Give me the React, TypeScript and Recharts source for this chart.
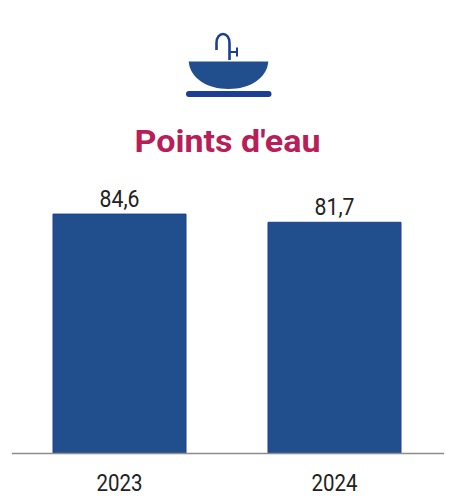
import React from "react";
import { BarChart, Bar, XAxis, YAxis, LabelList } from "recharts";

const categories = ["2023", "2024"];
const values = [84.6, 81.7];
const labels = ["84,6", "81,7"];
const title = "Points d'eau";
const data = categories.map((year, i) => ({ year, value: values[i], label: labels[i] }));

const BLUE = "#214f8e";
const EDGE = "#1c3f94";
const CRIMSON = "#b81f58";
const FONT = "Roboto, sans-serif";

const CondensedTick = (props: any) => {
  const { x, y, payload } = props;
  return (
    <text x={x} y={y + 29} textAnchor="middle" fontFamily={FONT} fontSize={24} fill="#222"
      textLength={46} lengthAdjust="spacingAndGlyphs">{payload.value}</text>
  );
};

const ValueLabel = (props: any) => {
  const { x, y, width, value } = props;
  return (
    <text x={x + width / 2} y={y - 7} textAnchor="middle" fontFamily={FONT} fontSize={24} fill="#222"
      textLength={40} lengthAdjust="spacingAndGlyphs">{value}</text>
  );
};

const Header = () => (
  <svg width={455} height={170} style={{ position: "absolute", left: 0, top: 0 }}>
    <path d="M216.5 50 V43 C216.5 31 229.5 31 229.5 43 V60" fill="none" stroke={EDGE} strokeWidth={2.6} />
    <path d="M229.5 52 H237 M237 47.5 V56.5" fill="none" stroke={EDGE} strokeWidth={2} />
    <path d="M188.7 61.5 H268.3 C267 78 250 89 228.5 89 C207 89 190 78 188.7 61.5 Z" fill={BLUE} />
    <rect x={186} y={91} width={85.5} height={6} rx={3} fill={EDGE} />
    <text x={227.5} y={152} textAnchor="middle" fontFamily={FONT} fontWeight={700} fontSize={31} fill={CRIMSON}
      textLength={186} lengthAdjust="spacingAndGlyphs">{title}</text>
  </svg>
);

export default function App() {
  return (
    <div style={{ position: "absolute", left: 0, top: 0, width: 455, height: 496 }}>
      <Header />
      <div style={{ position: "absolute", left: 0, top: 0 }}>
        <BarChart width={455} height={496} data={data} barCategoryGap={41}
          margin={{ top: 170.5, right: 11, bottom: 0, left: 12 }}>
          <YAxis hide domain={[0, 100]} />
          <XAxis dataKey="year" height={42.5} tickLine={false} padding={{ left: 0, right: 2 }}
            axisLine={{ stroke: "#8c8c8c", strokeWidth: 1.5 }} tick={<CondensedTick />} interval={0} />
          <Bar dataKey="value" fill={BLUE} stroke={EDGE} strokeWidth={1} isAnimationActive={false}>
            <LabelList dataKey="label" content={<ValueLabel />} />
          </Bar>
        </BarChart>
      </div>
    </div>
  );
}
